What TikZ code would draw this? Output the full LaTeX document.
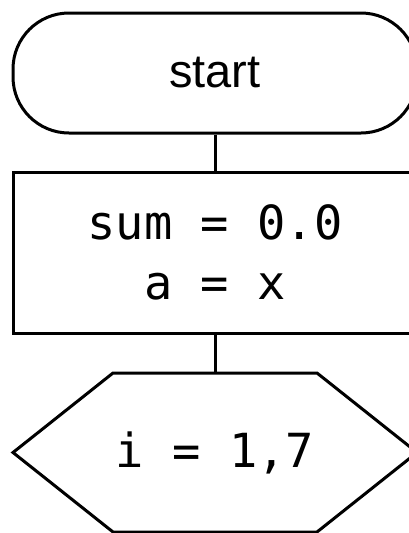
\documentclass[tikz,border=0pt]{standalone}
\usepackage{fontspec}
\setmainfont{Liberation Sans}
\setmonofont{DejaVu Sans Mono}

\begin{document}
\begin{tikzpicture}[x=1pt,y=-1pt,line width=3pt,
    terminal/.style={draw,rounded corners=56pt,minimum width=404pt,minimum height=120pt,font=\fontsize{47}{50}\selectfont},
    process/.style={draw,minimum width=404pt,minimum height=161pt,align=center,font=\ttfamily\fontsize{47}{60}\selectfont},
    loophex/.style={outer sep=0pt,minimum width=404pt,minimum height=159pt,font=\ttfamily\fontsize{47}{50}\selectfont}]
    \useasboundingbox (0,0) rectangle (408,533);
    \node[terminal] (start) at (215,73) {start};
    \node[process] (init) at (215,252.5) {sum = 0.0\\a = x};
    \node[loophex] (loop) at (215,452.5) {i = 1,7};
    \draw ([xshift=100pt]loop.north west) -- ([xshift=-100pt]loop.north east) -- (loop.east)
        -- ([xshift=-100pt]loop.south east) -- ([xshift=100pt]loop.south west) -- (loop.west) -- cycle;
    \draw (start) -- (init);
    \draw (init) -- (loop);
\end{tikzpicture}
\end{document}
